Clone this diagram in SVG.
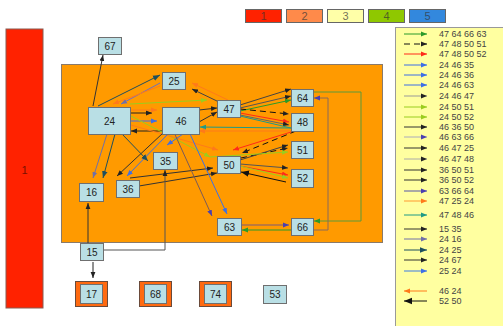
<svg xmlns="http://www.w3.org/2000/svg" width="503" height="326" viewBox="0 0 503 326">
<style>
.n rect{fill:#b9dfe5;stroke:#6f6f6f;stroke-width:1}
.n text{font-family:"Liberation Sans",Arial,sans-serif;font-size:10px;fill:#222;text-anchor:middle}
.lg text{font-family:"Liberation Sans",Arial,sans-serif;font-size:9px;fill:#444}
.k rect{stroke:#666;stroke-width:1}
.k text{font-family:"Liberation Sans",Arial,sans-serif;font-size:11px;text-anchor:middle;fill:#333;fill-opacity:0.7}
.e line,.e polyline,.lg line{fill:none;stroke-width:1}
</style>
<defs>
<marker id="dk" viewBox="0 0 10 10" refX="10" refY="5" markerWidth="6" markerHeight="6" markerUnits="userSpaceOnUse" orient="auto"><path d="M0,1L10,5L0,9z" fill="#222"/></marker>
<marker id="gr" viewBox="0 0 10 10" refX="10" refY="5" markerWidth="6" markerHeight="6" markerUnits="userSpaceOnUse" orient="auto"><path d="M0,1L10,5L0,9z" fill="#2a9a2a"/></marker>
<marker id="rd" viewBox="0 0 10 10" refX="10" refY="5" markerWidth="6" markerHeight="6" markerUnits="userSpaceOnUse" orient="auto"><path d="M0,1L10,5L0,9z" fill="#ff2a1a"/></marker>
<marker id="bl" viewBox="0 0 10 10" refX="10" refY="5" markerWidth="6" markerHeight="6" markerUnits="userSpaceOnUse" orient="auto"><path d="M0,1L10,5L0,9z" fill="#3d6fe6"/></marker>
<marker id="yg" viewBox="0 0 10 10" refX="10" refY="5" markerWidth="6" markerHeight="6" markerUnits="userSpaceOnUse" orient="auto"><path d="M0,1L10,5L0,9z" fill="#9acd1e"/></marker>
<marker id="or" viewBox="0 0 10 10" refX="10" refY="5" markerWidth="6" markerHeight="6" markerUnits="userSpaceOnUse" orient="auto"><path d="M0,1L10,5L0,9z" fill="#ff7a1a"/></marker>
<marker id="tl" viewBox="0 0 10 10" refX="10" refY="5" markerWidth="6" markerHeight="6" markerUnits="userSpaceOnUse" orient="auto"><path d="M0,1L10,5L0,9z" fill="#1f9a86"/></marker>
<marker id="pu" viewBox="0 0 10 10" refX="10" refY="5" markerWidth="6" markerHeight="6" markerUnits="userSpaceOnUse" orient="auto"><path d="M0,1L10,5L0,9z" fill="#4a3fb0"/></marker>
<marker id="gb" viewBox="0 0 10 10" refX="10" refY="5" markerWidth="6" markerHeight="6" markerUnits="userSpaceOnUse" orient="auto"><path d="M0,1L10,5L0,9z" fill="#7070a8"/></marker>
<marker id="dt" viewBox="0 0 10 10" refX="10" refY="5" markerWidth="7" markerHeight="7" markerUnits="userSpaceOnUse" orient="auto"><path d="M0,1L10,5L0,9z" fill="#1f4f5e"/></marker>
<marker id="bk" viewBox="0 0 10 10" refX="10" refY="5" markerWidth="8" markerHeight="8" markerUnits="userSpaceOnUse" orient="auto"><path d="M0,1L10,5L0,9z" fill="#111"/></marker>
</defs>
<rect width="503" height="326" fill="#ffffff"/>

<g id="cluster1"><rect x="6" y="29" width="37" height="279" fill="#ff2200" stroke="#8a5a50" stroke-width="1"/><text x="24.5" y="174" font-family="Liberation Sans,Arial,sans-serif" font-size="11" fill="#7a1000" text-anchor="middle">1</text></g>
<g id="cluster2"><rect x="61.5" y="64.5" width="321" height="178" fill="#ff9a00" stroke="#8a7a6a" stroke-width="1"/></g>

<g id="key" class="k">
<g id="k1"><rect x="245.5" y="9.5" width="36" height="13" fill="#ff2200"/><text x="263.5" y="20">1</text></g>
<g id="k2"><rect x="286.5" y="9.5" width="36" height="13" fill="#ff8a4a"/><text x="304.5" y="20">2</text></g>
<g id="k3"><rect x="327.5" y="9.5" width="36" height="13" fill="#ffffa8"/><text x="345.5" y="20">3</text></g>
<g id="k4"><rect x="368.5" y="9.5" width="36" height="13" fill="#8fc800"/><text x="386.5" y="20">4</text></g>
<g id="k5"><rect x="409.5" y="9.5" width="36" height="13" fill="#3388dd"/><text x="427.5" y="20">5</text></g>
</g>

<g id="legend" class="lg">
<rect x="395.5" y="27.5" width="110" height="300" fill="#ffffa0" stroke="#999" stroke-width="1"/>
<line x1="404" y1="34" x2="427" y2="34" stroke="#2a9a2a" marker-end="url(#gr)"/><text x="439" y="37">47 64 66 63</text>
<line x1="404" y1="44" x2="427" y2="44" stroke="#111" stroke-width="2" stroke-dasharray="6,4" marker-end="url(#dk)"/><text x="439" y="47">47 48 50 51</text>
<line x1="404" y1="54" x2="427" y2="54" stroke="#ff2a1a" marker-end="url(#rd)"/><text x="439" y="57">47 48 50 52</text>
<line x1="404" y1="65" x2="427" y2="65" stroke="#3d6fe6" marker-end="url(#bl)"/><text x="439" y="68">24 46 35</text>
<line x1="404" y1="75" x2="427" y2="75" stroke="#3d6fe6" marker-end="url(#bl)"/><text x="439" y="78">24 46 36</text>
<line x1="404" y1="85" x2="427" y2="85" stroke="#3d6fe6" marker-end="url(#bl)"/><text x="439" y="88">24 46 63</text>
<line x1="404" y1="96" x2="427" y2="96" stroke="#999" stroke-width="1.5" marker-end="url(#dk)"/><text x="439" y="99">24 46 47</text>
<line x1="404" y1="107" x2="427" y2="107" stroke="#9acd1e" marker-end="url(#yg)"/><text x="439" y="110">24 50 51</text>
<line x1="404" y1="117" x2="427" y2="117" stroke="#9acd1e" marker-end="url(#yg)"/><text x="439" y="120">24 50 52</text>
<line x1="404" y1="127" x2="427" y2="127" stroke="#333" marker-end="url(#dk)"/><text x="439" y="130">46 36 50</text>
<line x1="404" y1="137" x2="427" y2="137" stroke="#aab" stroke-width="1.5" marker-end="url(#pu)"/><text x="439" y="140">46 63 66</text>
<line x1="404" y1="148" x2="427" y2="148" stroke="#333" marker-end="url(#dk)"/><text x="439" y="151">46 47 25</text>
<line x1="404" y1="159" x2="427" y2="159" stroke="#aaa" stroke-width="1.5" marker-end="url(#dk)"/><text x="439" y="162">46 47 48</text>
<line x1="404" y1="170" x2="427" y2="170" stroke="#333" marker-end="url(#dk)"/><text x="439" y="173">36 50 51</text>
<line x1="404" y1="180" x2="427" y2="180" stroke="#333" marker-end="url(#dk)"/><text x="439" y="183">36 50 52</text>
<line x1="404" y1="191" x2="427" y2="191" stroke="#5555aa" marker-end="url(#pu)"/><text x="439" y="194">63 66 64</text>
<line x1="404" y1="201" x2="427" y2="201" stroke="#ff9a30" marker-end="url(#or)"/><text x="439" y="204">47 25 24</text>
<line x1="404" y1="215" x2="427" y2="215" stroke="#1f9a86" stroke-width="1.5" marker-end="url(#tl)"/><text x="439" y="218">47 48 46</text>
<line x1="404" y1="229" x2="427" y2="229" stroke="#333" marker-end="url(#dk)"/><text x="439" y="232">15 35</text>
<line x1="404" y1="239" x2="427" y2="239" stroke="#7070a8" marker-end="url(#gb)"/><text x="439" y="242">24 16</text>
<line x1="404" y1="250" x2="427" y2="250" stroke="#1f4f5e" stroke-width="2" marker-end="url(#dt)"/><text x="439" y="253">24 25</text>
<line x1="404" y1="260" x2="427" y2="260" stroke="#333" marker-end="url(#dk)"/><text x="439" y="263">24 67</text>
<line x1="404" y1="271" x2="427" y2="271" stroke="#3d7ae6" marker-end="url(#bl)"/><text x="439" y="274">25 24</text>
<line x1="427" y1="291" x2="404" y2="291" stroke="#ff7a1a" marker-end="url(#or)"/><text x="439" y="294">46 24</text>
<line x1="427" y1="301" x2="404" y2="301" stroke="#111" stroke-width="2" marker-end="url(#bk)"/><text x="439" y="304">52 50</text>
</g>

<g id="edges" class="e">
<line x1="93" y1="106" x2="103" y2="55" stroke="#333" marker-end="url(#dk)"/>
<line x1="98" y1="106" x2="160" y2="75" stroke="#1f4f5e" stroke-width="2" marker-end="url(#dt)"/>
<line x1="160" y1="83" x2="121" y2="104" stroke="#7070c0" stroke-width="1.5" marker-end="url(#gb)"/>
<line x1="160" y1="86" x2="113" y2="104" stroke="#ff7a1a" marker-end="url(#or)"/>
<line x1="228" y1="100" x2="192" y2="83" stroke="#ff7a1a" marker-end="url(#or)"/>
<line x1="219" y1="102" x2="192" y2="89" stroke="#444" marker-end="url(#dk)"/>
<line x1="130" y1="104" x2="207" y2="100" stroke="#9acd1e" marker-end="url(#yg)"/>
<line x1="130" y1="113" x2="152" y2="113" stroke="#222" marker-end="url(#dk)"/>
<line x1="130" y1="110" x2="157" y2="110" stroke="#ff7a1a" marker-end="url(#or)"/>
<line x1="130" y1="121" x2="157" y2="121" stroke="#3d6fe6" stroke-width="1.5" marker-end="url(#bl)"/>
<line x1="162" y1="131" x2="131" y2="131" stroke="#222" stroke-width="1.5" marker-end="url(#dk)"/>
<line x1="131" y1="116" x2="210" y2="157" stroke="#9acd1e" marker-end="url(#yg)"/>
<line x1="124" y1="123" x2="218" y2="150" stroke="#ff7a1a" marker-end="url(#or)"/>
<line x1="199" y1="110" x2="217" y2="108" stroke="#333" marker-end="url(#dk)"/>
<line x1="199" y1="122" x2="217" y2="112" stroke="#333" marker-end="url(#dk)"/>
<line x1="291" y1="128" x2="200" y2="127" stroke="#1f9a86" stroke-width="1.5" marker-end="url(#tl)"/>
<line x1="291" y1="131" x2="199" y2="131" stroke="#ff7a1a" marker-end="url(#or)"/>
<line x1="240" y1="105" x2="291" y2="89" stroke="#444" marker-end="url(#dk)"/>
<line x1="240" y1="108" x2="291" y2="96" stroke="#555" marker-end="url(#dk)"/>
<line x1="240" y1="111" x2="291" y2="100" stroke="#2a9a2a" marker-end="url(#gr)"/>
<line x1="240" y1="109" x2="289" y2="114" stroke="#111" stroke-width="2" stroke-dasharray="6,4" marker-end="url(#dk)"/>
<line x1="240" y1="113" x2="289" y2="122" stroke="#ff2a1a" marker-end="url(#rd)"/>
<line x1="240" y1="115" x2="289" y2="125" stroke="#666" marker-end="url(#dk)"/>
<line x1="240" y1="116" x2="291" y2="128" stroke="#1f9a86"/>
<line x1="296" y1="131" x2="242" y2="153" stroke="#111" stroke-width="2" stroke-dasharray="6,4" marker-end="url(#dk)"/>
<line x1="291" y1="132" x2="233" y2="150" stroke="#ff2a1a" marker-end="url(#rd)"/>
<line x1="241" y1="158" x2="288" y2="148" stroke="#111" stroke-width="2" stroke-dasharray="6,4" marker-end="url(#dk)"/>
<line x1="240" y1="160" x2="288" y2="145" stroke="#444" marker-end="url(#dk)"/>
<line x1="210" y1="157" x2="288" y2="152" stroke="#9acd1e" marker-end="url(#yg)"/>
<line x1="240" y1="164" x2="288" y2="168" stroke="#555" marker-end="url(#dk)"/>
<line x1="240" y1="166" x2="288" y2="175" stroke="#ff2a1a" marker-end="url(#rd)"/>
<line x1="236" y1="165" x2="288" y2="178" stroke="#9acd1e" marker-end="url(#yg)"/>
<line x1="286" y1="182" x2="241" y2="172" stroke="#111" stroke-width="2" marker-end="url(#bk)"/>
<line x1="130" y1="178" x2="213" y2="168" stroke="#333" marker-end="url(#dk)"/>
<line x1="139" y1="186" x2="217" y2="173" stroke="#333" marker-end="url(#dk)"/>
<line x1="163" y1="133" x2="117" y2="176" stroke="#333" marker-end="url(#dk)"/>
<line x1="168" y1="134" x2="127" y2="176" stroke="#3d6fe6" stroke-width="1.5" marker-end="url(#bl)"/>
<line x1="183" y1="134" x2="167" y2="145" stroke="#3d6fe6" stroke-width="1.5" marker-end="url(#bl)"/>
<line x1="122" y1="134" x2="148" y2="161" stroke="#1f4f5e" stroke-width="2" marker-end="url(#dt)"/>
<line x1="107" y1="134" x2="93" y2="178" stroke="#7070a8" stroke-width="1.5" marker-end="url(#gb)"/>
<line x1="115" y1="134" x2="103" y2="178" stroke="#1f4f5e" stroke-width="2" marker-end="url(#dt)"/>
<line x1="190" y1="134" x2="227" y2="214" stroke="#3d6fe6" stroke-width="1.5" marker-end="url(#bl)"/>
<line x1="172" y1="128" x2="212" y2="216" stroke="#7a5a5a" marker-end="url(#pu)"/>
<line x1="88" y1="243" x2="88" y2="203" stroke="#333" marker-end="url(#dk)"/>
<polyline points="103,250 165,250 165,170" stroke="#555" marker-end="url(#dk)"/>
<line x1="93" y1="262" x2="93" y2="278" stroke="#222" marker-end="url(#dk)"/>
<line x1="241" y1="225" x2="289" y2="225" stroke="#7a5a7a" marker-end="url(#pu)"/>
<line x1="291" y1="230" x2="242" y2="230" stroke="#2a9a2a" marker-end="url(#gr)"/>
<polyline points="313,92 361,92 361,221 314,221" stroke="#5a9a3a" marker-end="url(#gr)"/>
<polyline points="313,230 328,230 328,98 314,98" stroke="#8a6a5a" marker-end="url(#pu)"/>
</g>

<g id="nodes">
<g id="n67" class="n"><rect x="98.5" y="37.5" width="23" height="17"/><text x="110" y="50">67</text></g>
<g id="n25" class="n"><rect x="162.5" y="72.5" width="23" height="17"/><text x="174" y="85">25</text></g>
<g id="n24" class="n"><rect x="88.5" y="107.5" width="42" height="27"/><text x="109.5" y="125" font-size="11">24</text></g>
<g id="n46" class="n"><rect x="162.5" y="107.5" width="37" height="27"/><text x="181" y="125" font-size="11">46</text></g>
<g id="n47" class="n"><rect x="217.5" y="100.5" width="23" height="17"/><text x="229" y="113">47</text></g>
<g id="n64" class="n"><rect x="291.5" y="89.5" width="22" height="17"/><text x="302.5" y="102">64</text></g>
<g id="n48" class="n"><rect x="291.5" y="113.5" width="22" height="18"/><text x="302.5" y="126">48</text></g>
<g id="n51" class="n"><rect x="291.5" y="141.5" width="22" height="17"/><text x="302.5" y="154">51</text></g>
<g id="n50" class="n"><rect x="217.5" y="156.5" width="23" height="17"/><text x="229" y="169">50</text></g>
<g id="n52" class="n"><rect x="291.5" y="169.5" width="22" height="18"/><text x="302.5" y="182">52</text></g>
<g id="n35" class="n"><rect x="153.5" y="152.5" width="24" height="17"/><text x="165.5" y="165">35</text></g>
<g id="n36" class="n"><rect x="116.5" y="180.5" width="23" height="17"/><text x="128" y="193">36</text></g>
<g id="n16" class="n"><rect x="79.5" y="183.5" width="24" height="18"/><text x="91.5" y="196">16</text></g>
<g id="n63" class="n"><rect x="217.5" y="218.5" width="24" height="17"/><text x="229.5" y="231">63</text></g>
<g id="n66" class="n"><rect x="291.5" y="218.5" width="22" height="17"/><text x="302.5" y="231">66</text></g>
<g id="n15" class="n"><rect x="80.5" y="243.5" width="23" height="17"/><text x="92" y="256">15</text></g>
<g id="n17" class="n"><rect x="75.5" y="281.5" width="32" height="25" style="fill:#ff6a10;stroke:#6a4a3a"/><rect x="80.5" y="284.5" width="22" height="19"/><text x="91.5" y="298">17</text></g>
<g id="n68" class="n"><rect x="139.5" y="281.5" width="32" height="25" style="fill:#ff6a10;stroke:#6a4a3a"/><rect x="144.5" y="284.5" width="22" height="19"/><text x="155.5" y="298">68</text></g>
<g id="n74" class="n"><rect x="199.5" y="281.5" width="32" height="25" style="fill:#ff6a10;stroke:#6a4a3a"/><rect x="204.5" y="284.5" width="22" height="19"/><text x="215.5" y="298">74</text></g>
<g id="n53" class="n"><rect x="263.5" y="285.5" width="23" height="18"/><text x="275" y="298">53</text></g>
</g>
</svg>
